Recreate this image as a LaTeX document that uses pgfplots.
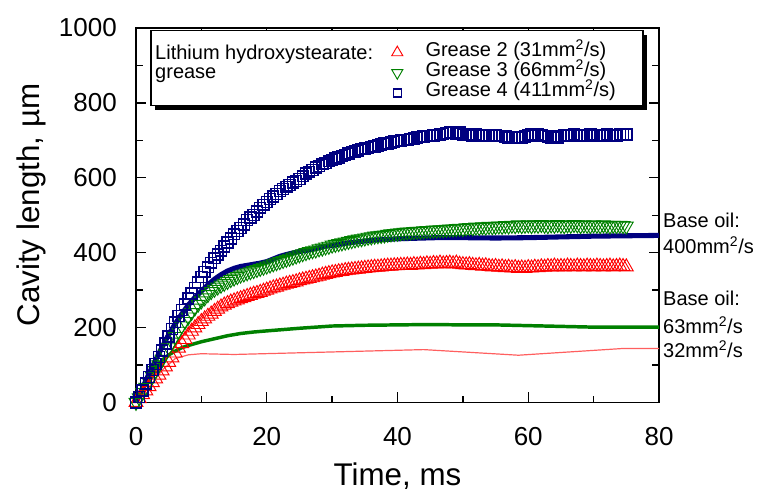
\documentclass[border=0pt]{standalone}
\usepackage{fontspec}
\setmainfont{Liberation Sans}
\usepackage{pgfplots}
\usepackage{pgfplotstable}
\pgfplotsset{compat=1.18}

\definecolor{gRed}{RGB}{255,0,0}
\definecolor{gGreen}{RGB}{0,128,0}
\definecolor{gNavy}{RGB}{0,0,128}
\definecolor{oilRed}{RGB}{255,95,95}

% Grease 2 (31 mm2/s), lithium hydroxystearate
\pgfplotstableread[row sep=\\]{
t y\\
0 0\\ 0.5 10\\ 1 21\\ 1.5 31\\ 2 42\\ 2.5 53\\ 3 63\\ 3.5 73\\ 4 84\\ 4.5 95\\
5 107\\ 5.5 119\\ 6 132\\ 6.5 145\\ 7 157\\ 7.5 168\\ 8 180\\ 8.5 190\\ 9 199\\ 9.5 208\\
10 216\\ 10.5 223\\ 11 230\\ 11.5 236\\ 12 243\\ 12.5 249\\ 13 255\\ 13.5 260\\ 14 264\\ 14.5 268\\
15 271\\ 15.5 274\\ 16 277\\ 16.5 280\\ 17 283\\ 17.5 286\\ 18 289\\ 18.5 291\\ 19 294\\ 19.5 297\\
20 300\\ 20.5 303\\ 21 306\\ 21.5 308\\ 22 311\\ 22.5 313\\ 23 316\\ 23.5 318\\ 24 320\\ 24.5 322\\
25 325\\ 25.5 327\\ 26 329\\ 26.5 331\\ 27 333\\ 27.5 335\\ 28 337\\ 28.5 340\\ 29 342\\ 29.5 344\\
30 346\\ 30.5 347\\ 31 349\\ 31.5 350\\ 32 352\\ 32.5 353\\ 33 354\\ 33.5 355\\ 34 356\\ 34.5 357\\
35 358\\ 35.5 359\\ 36 360\\ 36.5 361\\ 37 361\\ 37.5 362\\ 38 363\\ 38.5 364\\ 39 364\\ 39.5 365\\
40 365\\ 40.5 366\\ 41 366\\ 41.5 367\\ 42 366\\ 42.5 368\\ 43 367\\ 43.5 369\\ 44 368\\ 44.5 370\\
45 369\\ 45.5 371\\ 46 370\\ 46.5 372\\ 47 370\\ 47.5 371\\ 48 372\\ 48.5 370\\ 49 372\\ 49.5 369\\
50 368\\ 50.5 367\\ 51 368\\ 51.5 366\\ 52 365\\ 52.5 366\\ 53 364\\ 53.5 365\\ 54 363\\ 54.5 362\\
55 363\\ 55.5 361\\ 56 362\\ 56.5 360\\ 57 361\\ 57.5 359\\ 58 360\\ 58.5 358\\ 59 359\\ 59.5 358\\
60 360\\ 60.5 359\\ 61 361\\ 61.5 360\\ 62 362\\ 62.5 361\\ 63 363\\ 63.5 362\\ 64 364\\ 64.5 362\\
65 363\\ 65.5 362\\ 66 364\\ 66.5 363\\ 67 362\\ 67.5 364\\ 68 363\\ 68.5 362\\ 69 364\\ 69.5 363\\
70 362\\ 70.5 364\\ 71 363\\ 71.5 362\\ 72 363\\ 72.5 364\\ 73 362\\ 73.5 363\\ 74 364\\ 74.5 363\\
75 362\\
}\greaseTwo

% Grease 3 (66 mm2/s)
\pgfplotstableread[row sep=\\]{
t y\\
0 0\\ 0.5 12\\ 1 26\\ 1.5 40\\ 2 55\\ 2.5 70\\ 3 85\\ 3.5 100\\ 4 115\\ 4.5 131\\
5 146\\ 5.5 161\\ 6 176\\ 6.5 190\\ 7 204\\ 7.5 216\\ 8 228\\ 8.5 240\\ 9 252\\ 9.5 262\\
10 271\\ 10.5 279\\ 11 288\\ 11.5 296\\ 12 302\\ 12.5 308\\ 13 313\\ 13.5 318\\ 14 323\\ 14.5 328\\
15 332\\ 15.5 336\\ 16 340\\ 16.5 343\\ 17 346\\ 17.5 349\\ 18 352\\ 18.5 355\\ 19 358\\ 19.5 361\\
20 364\\ 20.5 367\\ 21 370\\ 21.5 373\\ 22 376\\ 22.5 379\\ 23 382\\ 23.5 385\\ 24 388\\ 24.5 391\\
25 394\\ 25.5 397\\ 26 400\\ 26.5 403\\ 27 405\\ 27.5 407\\ 28 410\\ 28.5 412\\ 29 415\\ 29.5 417\\
30 420\\ 30.5 422\\ 31 424\\ 31.5 426\\ 32 428\\ 32.5 430\\ 33 432\\ 33.5 434\\ 34 436\\ 34.5 437\\
35 439\\ 35.5 441\\ 36 442\\ 36.5 444\\ 37 445\\ 37.5 446\\ 38 447\\ 38.5 449\\ 39 450\\ 39.5 451\\
40 452\\ 40.5 453\\ 41 454\\ 41.5 455\\ 42 455\\ 42.5 456\\ 43 457\\ 43.5 457\\ 44 458\\ 44.5 459\\
45 459\\ 45.5 460\\ 46 460\\ 46.5 461\\ 47 461\\ 47.5 462\\ 48 463\\ 48.5 463\\ 49 464\\ 49.5 465\\
50 464\\ 50.5 466\\ 51 467\\ 51.5 466\\ 52 468\\ 52.5 467\\ 53 469\\ 53.5 468\\ 54 470\\ 54.5 469\\
55 470\\ 55.5 471\\ 56 470\\ 56.5 472\\ 57 471\\ 57.5 473\\ 58 472\\ 58.5 474\\ 59 472\\ 59.5 473\\
60 474\\ 60.5 472\\ 61 474\\ 61.5 473\\ 62 475\\ 62.5 473\\ 63 472\\ 63.5 474\\ 64 473\\ 64.5 475\\
65 473\\ 65.5 472\\ 66 474\\ 66.5 473\\ 67 475\\ 67.5 474\\ 68 472\\ 68.5 474\\ 69 473\\ 69.5 472\\
70 474\\ 70.5 473\\ 71 472\\ 71.5 474\\ 72 473\\ 72.5 471\\ 73 473\\ 73.5 472\\ 74 473\\ 74.5 472\\
75 471\\
}\greaseThree

% Grease 4 (411 mm2/s)
\pgfplotstableread[row sep=\\]{
t y\\
0 0\\ 0.5 14\\ 1 32\\ 1.5 50\\ 2 68\\ 2.5 86\\ 3 103\\ 3.5 121\\ 4 139\\ 4.5 157\\
5 176\\ 5.5 196\\ 6 214\\ 6.5 231\\ 7 247\\ 7.5 262\\ 8 277\\ 8.5 291\\ 9 305\\ 9.5 320\\
10 335\\ 10.5 349\\ 11 361\\ 11.5 373\\ 12 385\\ 12.5 395\\ 13 405\\ 13.5 416\\ 14 427\\ 14.5 438\\
15 449\\ 15.5 458\\ 16 466\\ 16.5 475\\ 17 487\\ 17.5 494\\ 18 501\\ 18.5 510\\ 19 520\\ 19.5 528\\
20 535\\ 20.5 543\\ 21 550\\ 21.5 557\\ 22 565\\ 22.5 570\\ 23 576\\ 23.5 581\\ 24 587\\ 24.5 591\\
25 597\\ 25.5 604\\ 26 611\\ 26.5 616\\ 27 621\\ 27.5 627\\ 28 632\\ 28.5 636\\ 29 640\\ 29.5 644\\
30 647\\ 30.5 651\\ 31 654\\ 31.5 658\\ 32 661\\ 32.5 665\\ 33 668\\ 33.5 670\\ 34 673\\ 34.5 676\\
35 678\\ 35.5 680\\ 36 682\\ 36.5 684\\ 37 686\\ 37.5 689\\ 38 691\\ 38.5 692\\ 39 694\\ 39.5 697\\
40 698\\ 40.5 700\\ 41 701\\ 41.5 701\\ 42 703\\ 42.5 705\\ 43 707\\ 43.5 709\\ 44 710\\ 44.5 711\\
45 712\\ 45.5 713\\ 46 714\\ 46.5 716\\ 47 717\\ 47.5 719\\ 48 721\\ 48.5 720\\ 49 718\\ 49.5 721\\
50 716\\ 50.5 714\\ 51 717\\ 51.5 713\\ 52 715\\ 52.5 712\\ 53 714\\ 53.5 713\\ 54 712\\ 54.5 714\\
55 713\\ 55.5 711\\ 56 712\\ 56.5 710\\ 57 708\\ 57.5 707\\ 58 706\\ 58.5 708\\ 59 707\\ 59.5 710\\
60 713\\ 60.5 715\\ 61 712\\ 61.5 716\\ 62 714\\ 62.5 711\\ 63 709\\ 63.5 708\\ 64 710\\ 64.5 708\\
65 712\\ 65.5 714\\ 66 711\\ 66.5 713\\ 67 715\\ 67.5 712\\ 68 714\\ 68.5 711\\ 69 713\\ 69.5 716\\
70 713\\ 70.5 711\\ 71 714\\ 71.5 712\\ 72 715\\ 72.5 713\\ 73 714\\ 73.5 712\\ 74 715\\ 74.5 716\\
75 716\\
}\greaseFour

% Base oils (plain lines)
\pgfplotstableread[row sep=\\]{
t y\\
0 0\\ 1 38\\ 2 77\\ 3 113\\ 4 148\\ 5 181\\ 6 210\\ 7 236\\ 8 260\\ 9 280\\
10 297\\ 11 314\\ 12 329\\ 13 341\\ 14 351\\ 15 358\\ 16 363\\ 17 366\\ 18 369\\ 19 372\\
20 376\\ 21 383\\ 22 390\\ 23 395\\ 24 399\\ 25 403\\ 26 406\\ 27 409\\ 28 413\\ 29 417\\
30 419\\ 31 422\\ 32 425\\ 33 427\\ 34 429\\ 35 431\\ 36 433\\ 37 434\\ 38 435\\ 39 436\\
40 437\\ 42 438\\ 44 439\\ 46 440\\ 48 440\\ 50 440\\ 55 439\\ 60 440\\ 65 442\\ 70 444\\
75 445\\ 80 446\\
}\oilFourHundred

\pgfplotstableread[row sep=\\]{
t y\\
0 0\\ 1 35\\ 2 68\\ 3 92\\ 4 112\\ 5 127\\ 6 137\\ 7 146\\ 8 152\\ 9 157\\
10 162\\ 12 170\\ 14 178\\ 16 184\\ 18 188\\ 20 191\\ 25 198\\ 30 204\\ 35 206\\ 40 207\\
45 208\\ 50 207\\ 55 207\\ 60 205\\ 65 203\\ 70 201\\ 75 201\\ 80 201\\
}\oilSixtyThree

\pgfplotstableread[row sep=\\]{
t y\\
0 0\\ 2 41\\ 4 86\\ 6 117\\ 8 127\\ 10 130\\ 15 128\\ 44 141\\ 58.5 126\\ 74.5 144\\ 80 144\\
}\oilThirtyTwo

\begin{document}
\begin{tikzpicture}
\begin{axis}[
  name=ax,
  scale only axis,
  width=392.25pt, height=280.8pt,
  xmin=0, xmax=80, ymin=0, ymax=1000,
  xtick={0,20,...,80}, minor x tick num=1,
  ytick={0,200,...,1000}, minor y tick num=1,
  tick align=inside,
  major tick length=7.5pt, minor tick length=5pt,
  tick style={black, line width=1pt},
  axis line style={line width=1.1pt},
  clip=false,
  /pgf/number format/assume math mode=true,
  /pgf/number format/1000 sep={},
  ticklabel style={font=\fontsize{19.5}{20}\selectfont},
  xticklabel style={inner sep=0pt, yshift=-18.5pt},
  yticklabel style={inner sep=0pt, xshift=-14.2pt},
  every axis y label/.style={at={(rel axis cs:-0.200,0.527)}, rotate=90, anchor=center,
    font=\fontsize{23.5}{24}\selectfont},
  every axis x label/.style={at={(rel axis cs:0.5,-0.198)}, anchor=center,
    font=\fontsize{23.5}{24}\selectfont},
  xlabel={Time, ms},
  ylabel={Cavity length, µm},
  legend style={at={(rel axis cs:0.489,0.9615)}, anchor=north west,
    draw=none, fill=none, inner sep=0pt, outer sep=0pt,
    font=\fontsize{15}{15}\selectfont,
    nodes={inner sep=0pt, text height=10.5pt, text depth=4.7pt},
    column sep=17pt, row sep=0pt},
  legend cell align=left,
]
% grease measurements (open markers, one frame every 0.5 ms)
\addplot[only marks, mark=triangle, mark size=6pt, color=gRed,
  mark options={line width=0.7pt}, forget plot] table[x=t, y=y] {\greaseTwo};
\addplot[only marks, mark=triangle, mark size=6pt, color=gGreen,
  mark options={line width=0.7pt, rotate=180}, forget plot] table[x=t, y=y] {\greaseThree};
\addplot[only marks, mark=square, mark size=4.1pt, color=gNavy,
  mark options={line width=1.1pt}, forget plot] table[x=t, y=y] {\greaseFour};

% base oil references (lines)
\addplot[color=oilRed, line width=0.9pt, forget plot] table[x=t, y=y] {\oilThirtyTwo};
\addplot[color=gGreen, line width=2.6pt, forget plot] table[x=t, y=y] {\oilSixtyThree};
\addplot[color=gNavy, line width=3.8pt, forget plot] table[x=t, y=y] {\oilFourHundred};

% framed key with a drop shadow
\fill[black] (rel axis cs:0.0363,0.7818) rectangle (rel axis cs:0.9770,0.9823);
\draw[black, line width=1.1pt, fill=white] (rel axis cs:0.0287,0.7925) rectangle (rel axis cs:0.9694,0.993);
\node[anchor=base west, inner sep=0pt, font=\fontsize{15}{15}\selectfont] at (axis cs:2.9,915) {Lithium hydroxystearate:};
\node[anchor=base west, inner sep=0pt, font=\fontsize{15}{15}\selectfont] at (axis cs:2.9,864) {grease};

\addlegendimage{only marks, mark=triangle, mark size=4.8pt, color=gRed, mark options={line width=0.7pt}}
\addlegendentry{Grease 2 (31mm\textsuperscript{2}/s)}
\addlegendimage{only marks, mark=triangle, mark size=4.8pt, color=gGreen, mark options={line width=0.7pt, rotate=180}}
\addlegendentry{Grease 3 (66mm\textsuperscript{2}/s)}
\addlegendimage{only marks, mark=square, mark size=3pt, color=gNavy, mark options={line width=0.9pt}}
\addlegendentry{Grease 4 (411mm\textsuperscript{2}/s)}

% labels for the base oil curves
\begin{scope}[every node/.style={anchor=base west, inner sep=0pt, font=\fontsize{15}{15}\selectfont}]
\node at (axis cs:80.6,468) {Base oil:};
\node at (axis cs:80.6,398) {400mm\textsuperscript{2}/s};
\node at (axis cs:80.6,258) {Base oil:};
\node at (axis cs:80.6,183) {63mm\textsuperscript{2}/s};
\node at (axis cs:80.6,121) {32mm\textsuperscript{2}/s};
\end{scope}
\end{axis}
\pgfresetboundingbox
\path[use as bounding box] ([xshift=-102pt,yshift=-69pt]ax.south west) rectangle ([xshift=75pt,yshift=21pt]ax.north east);
\end{tikzpicture}
\end{document}
